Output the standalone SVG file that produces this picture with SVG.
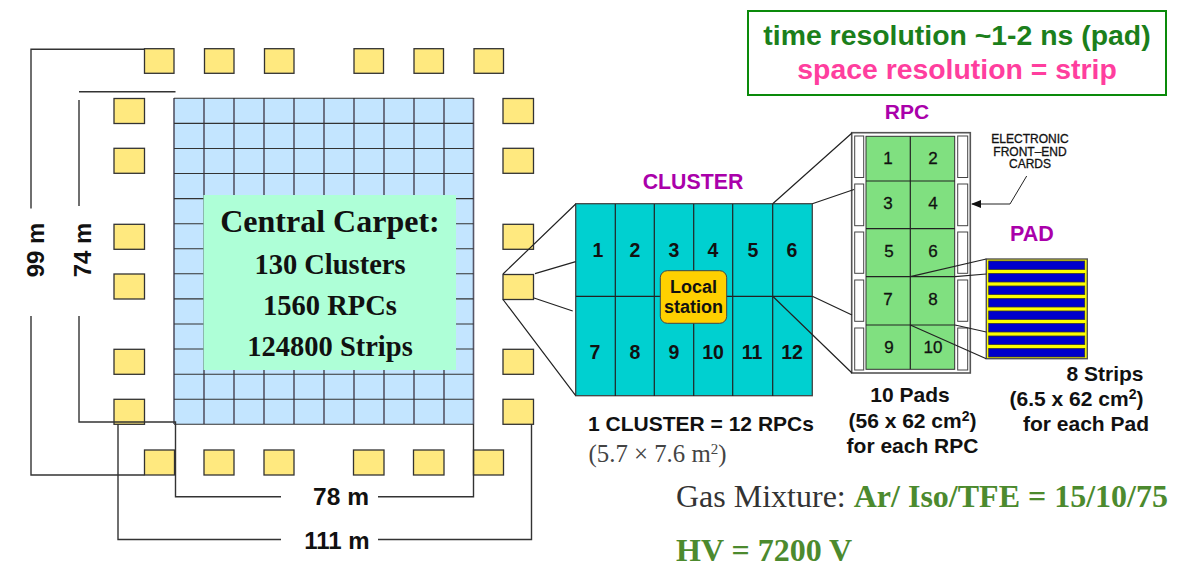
<svg xmlns="http://www.w3.org/2000/svg" width="1195" height="568" viewBox="0 0 1195 568">
<style>
text{font-family:"Liberation Sans",Arial,sans-serif;font-weight:bold;fill:#111;text-anchor:middle}
.serif{font-family:"Liberation Serif","Times New Roman",serif}
.st{fill:#FFE97F;stroke:#333;stroke-width:1.3}
.grid{stroke:#333;stroke-width:1.1;fill:none}
.gridv{stroke:#556;stroke-width:1.6;fill:none}
.dim{stroke:#333;stroke-width:1.4;fill:none}
.ln{stroke:#222;stroke-width:1.2;fill:none}
.cl{font-size:19.5px}
.rp{font-size:17px;font-weight:normal;stroke:#111;stroke-width:.3}
.pur{fill:#AA00AA}
.sl{fill:#fff;stroke:#444;stroke-width:1}
.strip{fill:#0000CC;stroke:#333;stroke-width:.8}
.lab{font-size:21px}
.fe{font-size:12px;font-weight:normal;stroke:#111;stroke-width:.3}
</style>
<defs>
<marker id="arr" markerWidth="10" markerHeight="8" refX="9" refY="4" orient="auto" markerUnits="userSpaceOnUse"><path d="M10 4L0 0V8Z" fill="#111"/></marker>
</defs>
<rect width="1195" height="568" fill="#fff"/>

<g id="carpet">
<rect x="174" y="98.3" width="299.5" height="326" fill="#C3E5FF"/>
<path class="gridv" d="M174 98V424M204 98V424M234 98V424M264 98V424M294 98V424M324 98V424M354 98V424M384 98V424M414 98V424M444 98V424M473.5 98V424"/>
<path class="grid" d="M174 98.3H473.5M174 123.4H473.5M174 148.5H473.5M174 173.5H473.5M174 198.6H473.5M174 223.7H473.5M174 248.8H473.5M174 273.8H473.5M174 298.9H473.5M174 324H473.5M174 349H473.5M174 374.2H473.5M174 399.2H473.5M174 424.3H473.5"/>
<rect x="203.5" y="195" width="252.5" height="175" fill="#AEFFD7"/>
<text class="serif" x="330" y="232" font-size="32">Central Carpet:</text>
<text class="serif" x="330" y="274" font-size="28.5">130 Clusters</text>
<text class="serif" x="330" y="315" font-size="28.5">1560 RPCs</text>
<text class="serif" x="330" y="356" font-size="28.5">124800 Strips</text>
</g>

<g id="stations">
<rect class="st" x="144.5" y="48.7" width="29.5" height="24.6"/>
<rect class="st" x="204.5" y="48.7" width="29.5" height="24.6"/>
<rect class="st" x="264.5" y="48.7" width="29.5" height="24.6"/>
<rect class="st" x="354" y="48.7" width="29.5" height="24.6"/>
<rect class="st" x="414" y="48.7" width="29.5" height="24.6"/>
<rect class="st" x="474" y="48.7" width="29.5" height="24.6"/>
<rect class="st" x="114" y="98.5" width="30.5" height="25"/>
<rect class="st" x="114" y="148.3" width="30.5" height="25"/>
<rect class="st" x="114" y="224.3" width="30.5" height="25"/>
<rect class="st" x="114" y="274" width="30.5" height="25"/>
<rect class="st" x="114" y="349.3" width="30.5" height="25"/>
<rect class="st" x="114" y="399.3" width="30.5" height="25"/>
<rect class="st" x="503" y="98.5" width="30.5" height="25"/>
<rect class="st" x="503" y="148.3" width="30.5" height="25"/>
<rect class="st" x="503" y="224.3" width="30.5" height="25"/>
<rect class="st" x="503" y="274.5" width="30.5" height="25"/>
<rect class="st" x="503" y="349.3" width="30.5" height="25"/>
<rect class="st" x="503" y="399.3" width="30.5" height="25"/>
<rect class="st" x="144.5" y="450" width="30" height="25"/>
<rect class="st" x="204" y="450" width="30" height="25"/>
<rect class="st" x="264" y="450" width="30" height="25"/>
<rect class="st" x="353.5" y="450" width="30.5" height="25"/>
<rect class="st" x="413.5" y="450" width="30.5" height="25"/>
<rect class="st" x="473.5" y="450" width="30" height="25"/>
</g>

<g id="cluster">
<rect x="575.7" y="203.7" width="236.6" height="192" fill="#00D0D0" stroke="#444" stroke-width="1.3"/>
<path class="ln" d="M615.3 204V396M654.3 204V396M693.7 204V396M732.7 204V396M772.7 204V396M576 296.3H812"/>
<text class="cl" x="598" y="257">1</text><text class="cl" x="635" y="257">2</text><text class="cl" x="674" y="257">3</text><text class="cl" x="713" y="257">4</text><text class="cl" x="753" y="257">5</text><text class="cl" x="792" y="257">6</text>
<text class="cl" x="595" y="359">7</text><text class="cl" x="635" y="359">8</text><text class="cl" x="674" y="359">9</text><text class="cl" x="713" y="359">10</text><text class="cl" x="752" y="359">11</text><text class="cl" x="792" y="359">12</text>
<rect x="660.3" y="270.7" width="66.4" height="52.6" rx="7" fill="#FFD000" stroke="#444" stroke-width="1"/>
<text x="693.5" y="293" font-size="18">Local</text>
<text x="693.5" y="313" font-size="18">station</text>
</g>

<g id="rpc">
<rect x="851.7" y="132.7" width="118.6" height="240.3" fill="#fff" stroke="#555" stroke-width="1.6"/>
<rect x="866" y="136.3" width="88.7" height="233" fill="#80E080" stroke="#333" stroke-width="1"/>
<path class="ln" d="M866 181H954.7M866 228.7H954.7M866 276.7H954.7M866 325H954.7M910.3 136.3V369.3"/>
<rect class="sl" x="854.7" y="136" width="9" height="41.5"/><rect class="sl" x="854.7" y="184" width="9" height="41.7"/><rect class="sl" x="854.7" y="232" width="9" height="41.3"/><rect class="sl" x="854.7" y="280" width="9" height="41.3"/><rect class="sl" x="854.7" y="328" width="9" height="42"/>
<rect class="sl" x="957.7" y="136" width="10" height="41.5"/><rect class="sl" x="957.7" y="184" width="10" height="41.7"/><rect class="sl" x="957.7" y="232" width="10" height="41.3"/><rect class="sl" x="957.7" y="280" width="10" height="41.3"/><rect class="sl" x="957.7" y="328" width="10" height="42"/>
<text class="rp" x="888" y="164">1</text><text class="rp" x="933" y="164">2</text>
<text class="rp" x="888" y="209">3</text><text class="rp" x="933" y="209">4</text>
<text class="rp" x="889" y="257">5</text><text class="rp" x="933" y="257">6</text>
<text class="rp" x="888" y="305">7</text><text class="rp" x="933" y="305">8</text>
<text class="rp" x="889" y="353">9</text><text class="rp" x="933" y="353">10</text>
</g>

<g id="pad">
<rect x="986.3" y="259" width="101" height="99.7" fill="#FFFF00" stroke="#555" stroke-width="1.4"/>
<rect class="strip" x="988.7" y="261" width="96" height="8.5"/>
<rect class="strip" x="988.7" y="273.5" width="96" height="8.5"/>
<rect class="strip" x="988.7" y="286" width="96" height="8.5"/>
<rect class="strip" x="988.7" y="298.5" width="96" height="8.5"/>
<rect class="strip" x="988.7" y="311" width="96" height="8.5"/>
<rect class="strip" x="988.7" y="323.5" width="96" height="8.5"/>
<rect class="strip" x="988.7" y="336" width="96" height="8.5"/>
<rect class="strip" x="988.7" y="348.5" width="96" height="8.5"/>
</g>

<g id="connectors">
<path class="dim" d="M31 208.5V49.3H144.5M31 316V475H144.5"/>
<path class="dim" d="M79 91.7H175.5M79 100V206M79 316V422H175.5V496.7H281M378 496.7H473.5V424"/>
<path class="dim" d="M118 424V539.5H281M378 539.5H531.5V424"/>
<path class="ln" d="M503 274L575.7 204M535 273.7L575.7 261.7M534 298L572.7 311M503 299.5L575.7 395.7"/>
<path class="ln" d="M772.7 203.7L852 133M812.3 203.7L854 189.5M812.3 296.3L852 315M772.7 296.3L852 373"/>
<path class="ln" d="M910.3 276.7L986.3 259M955 276.7L986.3 274M955 325L986.3 332M910.3 325L986.3 358.7"/>
<path d="M1026.7 176L1010 204H972" fill="none" stroke="#222" stroke-width="1" marker-end="url(#arr)"/>
</g>

<g id="labels">
<rect x="748" y="11" width="418" height="84" fill="none" stroke="#0A8A0A" stroke-width="2"/>
<text x="957" y="45" font-size="28.4" style="fill:#1B7F1B">time resolution ~1-2 ns (pad)</text>
<text x="957" y="79" font-size="28.4" style="fill:#FF3E9E">space resolution = strip</text>
<text x="693" y="189" font-size="21.3" style="fill:#AA00AA">CLUSTER</text>
<text x="907" y="119" font-size="21" style="fill:#AA00AA">RPC</text>
<text x="1032" y="241" font-size="21.5" style="fill:#AA00AA">PAD</text>
<text class="fe" x="1030" y="143">ELECTRONIC</text>
<text class="fe" x="1030" y="156">FRONT–END</text>
<text class="fe" x="1030" y="168">CARDS</text>
<text x="701" y="431" font-size="21">1 CLUSTER = 12 RPCs</text>
<text class="serif" x="657.5" y="462" font-size="24.8" style="font-weight:normal;fill:#444">(5.7 × 7.6 m<tspan font-size="15" dy="-8">2</tspan><tspan dy="8">)</tspan></text>
<text class="lab" x="910" y="402">10 Pads</text>
<text class="lab" x="912.5" y="428">(56 x 62 cm<tspan font-size="14" dy="-7">2</tspan><tspan dy="7">)</tspan></text>
<text class="lab" x="912.5" y="453">for each RPC</text>
<text class="lab" x="1105" y="381">8 Strips</text>
<text class="lab" x="1076.5" y="406">(6.5 x 62 cm<tspan font-size="14" dy="-7">2</tspan><tspan dy="7">)</tspan></text>
<text class="lab" x="1086" y="431">for each Pad</text>
<text x="341" y="505" font-size="24.5">78 m</text>
<text x="337" y="549" font-size="24">111 m</text>
<text x="0" y="0" font-size="24" transform="translate(44 250) rotate(-90)">99 m</text>
<text x="0" y="0" font-size="24" transform="translate(91 250) rotate(-90)">74 m</text>
<text class="serif" x="676" y="507" font-size="32" style="text-anchor:start;font-weight:normal;fill:#333">Gas Mixture: <tspan font-weight="bold" style="fill:#4C8A2E">Ar/ Iso/TFE = 15/10/75</tspan></text>
<text class="serif" x="676" y="561" font-size="32" style="text-anchor:start;fill:#4C8A2E">HV = 7200 V</text>
</g>
</svg>
